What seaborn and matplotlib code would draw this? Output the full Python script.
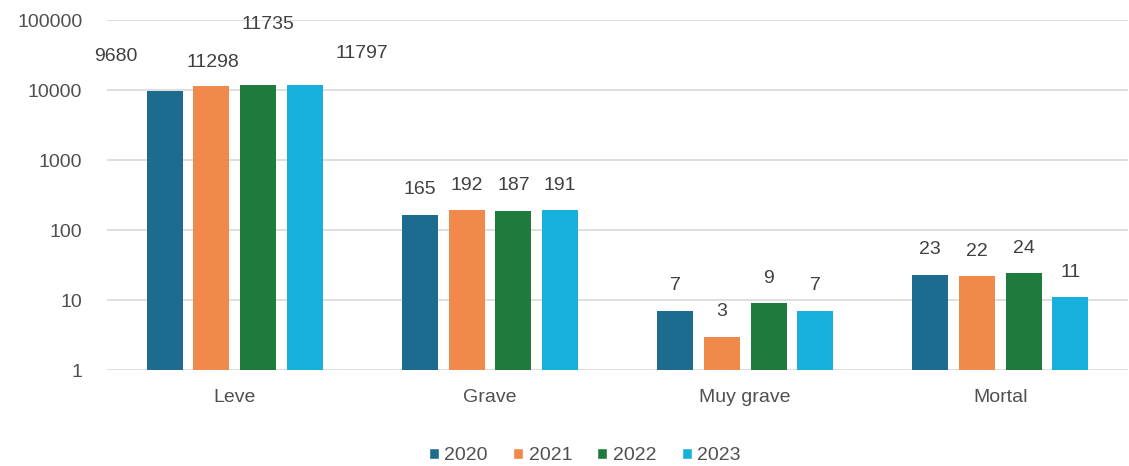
import pandas as pd
import seaborn as sns
import matplotlib.pyplot as plt
from matplotlib.ticker import FixedLocator, NullLocator, FuncFormatter
from matplotlib.patches import Patch

# Data
categories = ["Leve", "Grave", "Muy grave", "Mortal"]
years = ["2020", "2021", "2022", "2023"]
v2020 = [9680, 165, 7, 23]
v2021 = [11298, 192, 3, 22]
v2022 = [11735, 187, 9, 24]
v2023 = [11797, 191, 7, 11]

colors = ["#1d6b8f", "#f0894a", "#1f7a3e", "#17afdc"]

# label offsets (pixels) for the crowded "Leve" group, as in the original
leve_offsets = [(-49, 35), (1, 24), (10, 61), (57, 32)]

rows = []
for year, vals in zip(years, [v2020, v2021, v2022, v2023]):
    for cat, v in zip(categories, vals):
        rows.append({"Categoria": cat, "Año": year, "Valor": v})
df = pd.DataFrame(rows)

sns.set_style("white")
plt.rcParams["font.family"] = ["Liberation Sans", "DejaVu Sans"]
FS = 14

fig = plt.figure(figsize=(11.29, 4.66), dpi=100)
ax = fig.add_axes([0.095, 0.206, 0.904, 0.751])

sns.barplot(data=df, x="Categoria", y="Valor", hue="Año", palette=colors,
            width=0.733, gap=0.23, ax=ax, legend=False,
            saturation=1, errorbar=None, linewidth=0)
ax.set_yscale("log")

ax.set_ylim(1, 100000)
ax.set_xlim(-0.5, 3.5)
ax.yaxis.set_major_locator(FixedLocator([1, 10, 100, 1000, 10000, 100000]))
ax.yaxis.set_minor_locator(NullLocator())
ax.yaxis.set_major_formatter(FuncFormatter(lambda v, p: f"{int(round(v))}"))
ax.grid(True, axis="y", color="#d9d9d9", linewidth=1.2)
ax.set_axisbelow(True)
for s in ax.spines.values():
    s.set_visible(False)
ax.tick_params(axis="y", length=0, pad=18, labelsize=FS, labelcolor="#505050")
ax.tick_params(axis="x", length=0, pad=14, labelsize=FS, labelcolor="#505050")
ax.set_xlabel("")
ax.set_ylabel("")

# value labels
for i, cont in enumerate(ax.containers):
    for j, bar in enumerate(cont):
        h = bar.get_y() + bar.get_height()
        xc = bar.get_x() + bar.get_width() / 2
        if j == 0:
            dx, dy = leve_offsets[i]
        else:
            dx, dy = 0, 25
        ax.annotate(f"{int(round(h))}", (xc, h), xytext=(dx, dy),
                    textcoords="offset pixels", ha="center", va="center",
                    fontsize=FS, color="#404040")

handles = [Patch(facecolor=c, label=y) for c, y in zip(colors, years)]
fig.legend(handles=handles, loc="center", bbox_to_anchor=(0.518, 0.022),
           ncol=4, frameon=False, fontsize=FS, handlelength=0.5,
           handleheight=0.5, handletextpad=0.3, columnspacing=1.3,
           labelcolor="#505050")

fig.savefig("out.png", dpi=100)
